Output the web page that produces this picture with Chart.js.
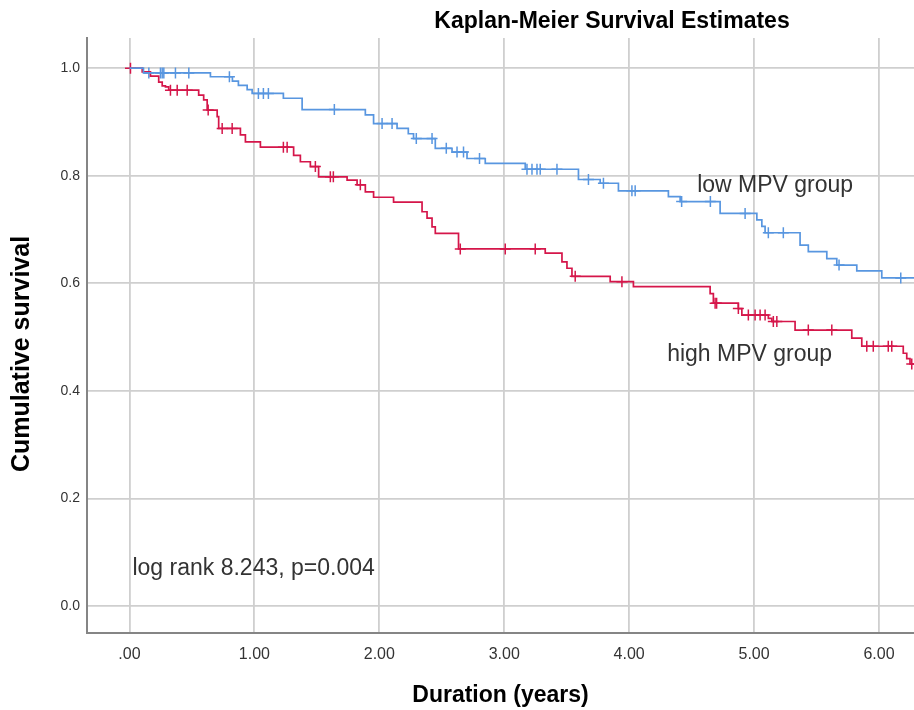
<!DOCTYPE html>
<html>
<head>
<meta charset="utf-8">
<title>Kaplan-Meier Survival Estimates</title>
<script src="https://cdn.jsdelivr.net/npm/chart.js@4.4.1/dist/chart.umd.min.js"></script>
<style>
    html, body { margin: 0; padding: 0; background: #fff; overflow: hidden; }
    #wrap { width: 914px; height: 710px; position: relative; }
</style>
</head>
<body>
<div id="wrap"><canvas id="kmChart"></canvas></div>
<script>
// --- Data ---
// low MPV group: event times (years) and survival right after each step
const lowTimes = [0, 0.112, 0.648, 0.824, 0.872, 0.942, 0.982, 1.232, 1.382, 1.888, 1.954, 2.142, 2.232, 2.274, 2.448, 2.582, 2.702, 2.848, 3.168, 3.594, 3.768, 3.914, 4.314, 4.408, 4.728, 5.022, 5.062, 5.088, 5.368, 5.434, 5.582, 5.662, 5.822, 6.022, 6.3];
const lowSurv  = [1.0, 0.991, 0.984, 0.976, 0.968, 0.960, 0.953, 0.944, 0.923, 0.913, 0.897, 0.888, 0.878, 0.869, 0.851, 0.844, 0.832, 0.823, 0.812, 0.793, 0.786, 0.772, 0.761, 0.752, 0.730, 0.718, 0.706, 0.694, 0.671, 0.659, 0.646, 0.634, 0.623, 0.610, 0.610];
const lowCensorTimes = [0.155, 0.248, 0.262, 0.275, 0.368, 0.475, 0.80, 1.032, 1.072, 1.112, 1.64, 2.022, 2.102, 2.296, 2.422, 2.536, 2.622, 2.674, 2.802, 3.182, 3.222, 3.262, 3.288, 3.422, 3.674, 3.794, 4.022, 4.048, 4.42, 4.65, 4.928, 5.114, 5.234, 5.68, 6.174];
const lowCensorSurv  = [0.991, 0.991, 0.991, 0.991, 0.991, 0.991, 0.984, 0.953, 0.953, 0.953, 0.923, 0.897, 0.897, 0.869, 0.869, 0.851, 0.844, 0.844, 0.832, 0.812, 0.812, 0.812, 0.812, 0.812, 0.793, 0.786, 0.772, 0.772, 0.752, 0.752, 0.730, 0.694, 0.694, 0.634, 0.610];

// high MPV group
const highTimes = [0, 0.102, 0.168, 0.234, 0.262, 0.288, 0.314, 0.554, 0.594, 0.622, 0.702, 0.714, 0.888, 0.928, 1.048, 1.314, 1.368, 1.448, 1.514, 1.742, 1.822, 1.888, 1.954, 2.114, 2.342, 2.382, 2.422, 2.448, 2.634, 3.328, 3.462, 3.502, 3.542, 3.848, 4.034, 4.648, 4.674, 4.874, 4.902, 5.114, 5.142, 5.328, 5.782, 5.862, 6.194, 6.222, 6.248, 6.3];
const highSurv  = [1.0, 0.993, 0.985, 0.974, 0.967, 0.965, 0.959, 0.950, 0.941, 0.922, 0.910, 0.888, 0.876, 0.863, 0.853, 0.838, 0.826, 0.817, 0.798, 0.792, 0.783, 0.770, 0.760, 0.751, 0.733, 0.721, 0.705, 0.693, 0.664, 0.656, 0.640, 0.628, 0.613, 0.603, 0.594, 0.581, 0.563, 0.553, 0.541, 0.535, 0.529, 0.513, 0.498, 0.483, 0.470, 0.460, 0.450, 0.450];
const highCensorTimes = [0.008, 0.328, 0.382, 0.462, 0.63, 0.742, 0.822, 1.232, 1.262, 1.488, 1.608, 1.632, 1.848, 2.648, 3.008, 3.248, 3.568, 3.942, 4.688, 4.70, 4.874, 4.954, 5.008, 5.048, 5.088, 5.154, 5.182, 5.434, 5.622, 5.902, 5.954, 6.074, 6.102, 6.262];
const highCensorSurv  = [1.0, 0.959, 0.959, 0.959, 0.922, 0.888, 0.888, 0.853, 0.853, 0.817, 0.798, 0.798, 0.783, 0.664, 0.664, 0.664, 0.613, 0.603, 0.563, 0.563, 0.553, 0.541, 0.541, 0.541, 0.541, 0.529, 0.529, 0.513, 0.513, 0.483, 0.483, 0.483, 0.483, 0.450];

const xTickValues = [0, 1, 2, 3, 4, 5, 6];
const xTickLabels = ['.00', '1.00', '2.00', '3.00', '4.00', '5.00', '6.00'];
const yTickValues = [0, 0.2, 0.4, 0.6, 0.8, 1.0];
const yTickLabels = ['0.0', '0.2', '0.4', '0.6', '0.8', '1.0'];

// --- Colours ---
const LOW_COLOR = '#5896e0';
const HIGH_COLOR = '#d5164a';
const GRID_COLOR = '#cfcfcf';
const AXIS_COLOR = '#858585';
const TEXT_COLOR = '#333333';
const SANS = '"Liberation Sans", Arial, sans-serif';

// --- Helpers ---
const toPoints = (xs, ys) => xs.map((x, i) => ({ x: x, y: ys[i] }));

// Free text: chart title, y-axis title and the in-plot notes
const notesPlugin = {
    id: 'kmNotes',
    afterDraw(chart) {
        const { ctx, chartArea, scales: { x, y } } = chart;
        ctx.save();
        ctx.fillStyle = '#000';
        ctx.textBaseline = 'middle';
        ctx.textAlign = 'center';
        ctx.font = 'bold 23px ' + SANS;
        ctx.fillText('Kaplan-Meier Survival Estimates', 612, 22);

        // y-axis title, rotated
        ctx.save();
        ctx.translate(22, chartArea.top + 316);
        ctx.rotate(-Math.PI / 2);
        ctx.font = 'bold 25px ' + SANS;
        ctx.fillText('Cumulative survival', 0, 0);
        ctx.restore();

        ctx.fillStyle = TEXT_COLOR;
        ctx.textAlign = 'left';
        ctx.font = '23px ' + SANS;
        ctx.fillText('low MPV group', x.getPixelForValue(4.544), y.getPixelForValue(0.781));
        ctx.fillText('high MPV group', x.getPixelForValue(4.304), y.getPixelForValue(0.468));
        ctx.fillText('log rank 8.243, p=0.004', x.getPixelForValue(0.024), y.getPixelForValue(0.069));
        ctx.restore();
    }
};

const ctx = document.getElementById('kmChart').getContext('2d');
const kmChart = new Chart(ctx, {
    type: 'scatter',
    data: {
        datasets: [
            {
                label: 'low MPV group',
                data: toPoints(lowTimes, lowSurv),
                showLine: true,
                stepped: 'before',
                borderColor: LOW_COLOR,
                borderWidth: 1.7,
                pointRadius: 0,
                fill: false
            },
            {
                label: 'high MPV group',
                data: toPoints(highTimes, highSurv),
                showLine: true,
                stepped: 'before',
                borderColor: HIGH_COLOR,
                borderWidth: 1.7,
                pointRadius: 0,
                fill: false
            },
            {
                label: 'low censored',
                data: toPoints(lowCensorTimes, lowCensorSurv),
                showLine: false,
                pointStyle: 'cross',
                pointRadius: 5.5,
                borderColor: LOW_COLOR,
                borderWidth: 1.5
            },
            {
                label: 'high censored',
                data: toPoints(highCensorTimes, highCensorSurv),
                showLine: false,
                pointStyle: 'cross',
                pointRadius: 5.5,
                borderColor: HIGH_COLOR,
                borderWidth: 1.5
            }
        ]
    },
    options: {
        responsive: true,
        maintainAspectRatio: false,
        animation: false,
        layout: { autoPadding: false, padding: { top: 38, right: 0, left: 0, bottom: 0 } },
        plugins: {
            legend: { display: false },
            tooltip: { enabled: false }
        },
        scales: {
            x: {
                type: 'linear',
                min: -0.34,
                max: 6.28,
                afterBuildTicks: (scale) => { scale.ticks = xTickValues.map(v => ({ value: v })); },
                afterFit: (scale) => {
                    scale.height = 77;
                    scale.paddingLeft = 0;
                    scale.paddingRight = 0;
                },
                ticks: {
                    callback: (value) => xTickLabels[xTickValues.indexOf(value)],
                    color: TEXT_COLOR,
                    font: { family: '"Liberation Sans Narrow", "Liberation Sans", Arial', size: 16 },
                    padding: 12,
                    maxRotation: 0
                },
                grid: { color: GRID_COLOR, lineWidth: 1.8, drawTicks: false },
                border: { color: AXIS_COLOR, width: 2 },
                title: {
                    display: true,
                    text: 'Duration (years)',
                    color: '#000',
                    font: { family: SANS, size: 23, weight: 'bold' },
                    padding: { top: 0, bottom: 1 }
                }
            },
            y: {
                type: 'linear',
                min: -0.05,
                max: 1.056,
                afterBuildTicks: (scale) => { scale.ticks = yTickValues.map(v => ({ value: v })); },
                afterFit: (scale) => {
                    scale.width = 87;
                    scale.paddingTop = 0;
                    scale.paddingBottom = 0;
                },
                ticks: {
                    callback: (value) => yTickLabels[yTickValues.indexOf(value)],
                    color: TEXT_COLOR,
                    font: { family: SANS, size: 14 },
                    padding: 7
                },
                grid: { color: GRID_COLOR, lineWidth: 1.8, drawTicks: false },
                border: { color: AXIS_COLOR, width: 2 }
            }
        }
    },
    plugins: [notesPlugin]
});
</script>
</body>
</html>
